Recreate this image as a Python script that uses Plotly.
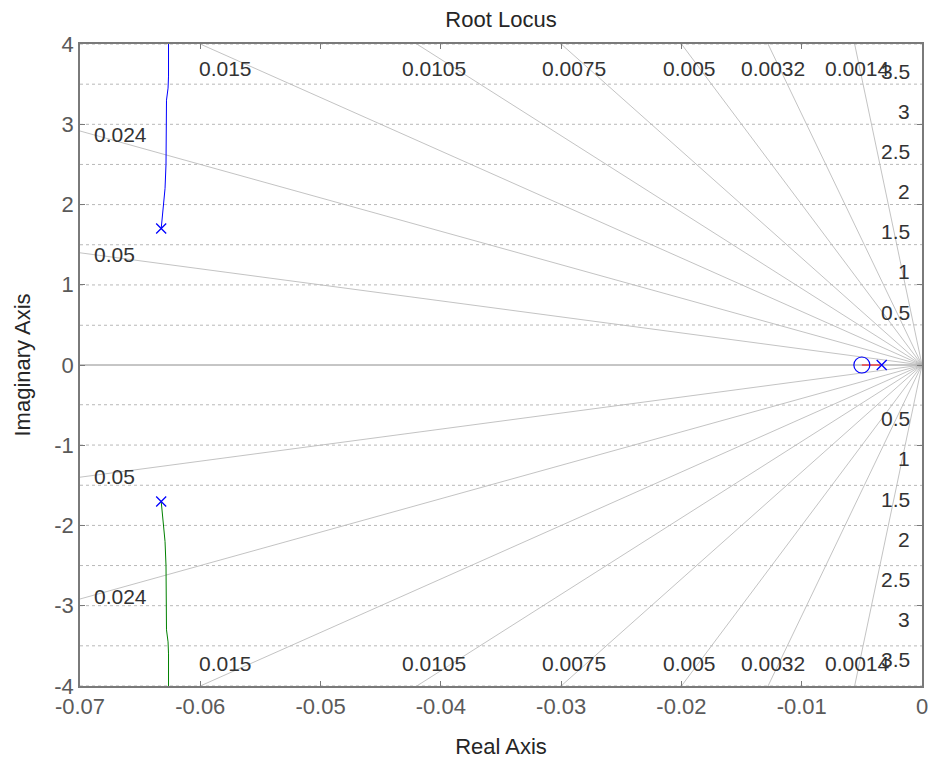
import numpy as np
import plotly.graph_objects as go

# ---- data ----
# damping ratios of the sgrid rays
zeta_vals = [0.0014, 0.0032, 0.005, 0.0075, 0.0105, 0.015, 0.024, 0.05]
zeta_labels = ["0.0014", "0.0032", "0.005", "0.0075", "0.0105", "0.015", "0.024", "0.05"]
# natural frequencies of the sgrid arcs
wn_vals = [0.5, 1.0, 1.5, 2.0, 2.5, 3.0, 3.5, 4.0]
wn_labels = ["0.5", "1", "1.5", "2", "2.5", "3", "3.5", ""]

# root locus branches
branch_up_x = [-0.06325, -0.06318, -0.06306, -0.06293, -0.06285, -0.06281, -0.06281, -0.06268, -0.06264, -0.06264]
branch_up_y = [1.70, 1.80, 2.00, 2.20, 2.50, 3.00, 3.30, 3.45, 3.60, 4.00]
branch_dn_x = [-0.06325, -0.06318, -0.06306, -0.06293, -0.06285, -0.06281, -0.06281, -0.06268, -0.06264, -0.06264]
branch_dn_y = [-1.70, -1.80, -2.00, -2.20, -2.50, -3.00, -3.30, -3.45, -3.60, -4.00]
branch_real_x = [-0.00335, -0.00500]
branch_real_y = [0.0, 0.0]

poles_x = [-0.06325, -0.06325, -0.00335]
poles_y = [1.70, -1.70, 0.0]
zeros_x = [-0.00500]
zeros_y = [0.0]

x_ticks = [-0.07, -0.06, -0.05, -0.04, -0.03, -0.02, -0.01, 0]
x_ticktext = ["-0.07", "-0.06", "-0.05", "-0.04", "-0.03", "-0.02", "-0.01", "0"]
y_ticks = [-4, -3, -2, -1, 0, 1, 2, 3, 4]
y_ticktext = ["-4", "-3", "-2", "-1", "0", "1", "2", "3", "4"]

XMIN, XMAX, YMIN, YMAX = -0.07, 0.0, -4.0, 4.0

fig = go.Figure()

grid_col = "#b4b4b4"

# real axis (zeta = 1 ray)
fig.add_trace(go.Scatter(x=[XMIN - 1, 0], y=[0, 0], mode="lines",
                         line=dict(color="#8c8c8c", width=1), hoverinfo="skip", showlegend=False))

# damping rays
R = 10.0
for z in zeta_vals:
    s = np.sqrt(1 - z * z)
    fig.add_trace(go.Scatter(x=[0, -R * z], y=[0, R * s], mode="lines",
                             line=dict(color=grid_col, width=0.8), hoverinfo="skip", showlegend=False))
    fig.add_trace(go.Scatter(x=[0, -R * z], y=[0, -R * s], mode="lines",
                             line=dict(color=grid_col, width=0.8), hoverinfo="skip", showlegend=False))

# natural frequency arcs
xs = np.linspace(XMIN, 0, 60)
for w in wn_vals:
    ys = np.sqrt(w * w - xs * xs)
    fig.add_trace(go.Scatter(x=xs, y=ys, mode="lines",
                             line=dict(color="#b8b8b8", width=1, dash="dot"), hoverinfo="skip", showlegend=False))
    fig.add_trace(go.Scatter(x=xs, y=-ys, mode="lines",
                             line=dict(color="#b8b8b8", width=1, dash="dot"), hoverinfo="skip", showlegend=False))

# root locus branches
fig.add_trace(go.Scatter(x=branch_up_x, y=branch_up_y, mode="lines",
                         line=dict(color="#0000ff", width=1), showlegend=False))
fig.add_trace(go.Scatter(x=branch_dn_x, y=branch_dn_y, mode="lines",
                         line=dict(color="#008000", width=1), showlegend=False))
fig.add_trace(go.Scatter(x=branch_real_x, y=branch_real_y, mode="lines",
                         line=dict(color="#ff0000", width=1), showlegend=False))

# poles and zeros
fig.add_trace(go.Scatter(x=poles_x, y=poles_y, mode="markers",
                         marker=dict(symbol="x-thin-open", size=10, color="#0000ff",
                                     line=dict(color="#0000ff", width=1.3)),
                         showlegend=False))
fig.add_trace(go.Scatter(x=zeros_x, y=zeros_y, mode="markers",
                         marker=dict(symbol="circle-open", size=16, color="#0000ff",
                                     line=dict(color="#0000ff", width=1.2)),
                         showlegend=False))

FONT = "Liberation Sans, Arial, sans-serif"
annotations = []
lab_font = dict(family=FONT, size=21, color="#333333")
# damping labels
for z, t in zip(zeta_vals, zeta_labels):
    s = np.sqrt(1 - z * z)
    y_edge = -XMIN * s / z
    if y_edge > 3.7:
        xt = -4.0 * z / s * 0.965
        for yy in (3.70, -3.72):
            annotations.append(dict(x=xt, y=yy, text=t, showarrow=False, xanchor="center",
                                    yanchor="middle", font=lab_font))
    else:
        for yy in (y_edge * 0.985, -y_edge * 0.99):
            annotations.append(dict(x=XMIN + 0.0010, y=yy, text=t, showarrow=False, xanchor="left",
                                    yanchor="middle", font=lab_font))
# natural frequency labels
for w, t in zip(wn_vals, wn_labels):
    if not t:
        continue
    for yy in (w + 0.16, -(w + 0.17)):
        annotations.append(dict(x=-0.0008, y=yy, text=t, showarrow=False, xanchor="right",
                                yanchor="middle", font=lab_font))

tick_font = dict(family=FONT, size=22, color="#5a5a5a")
title_font = dict(family=FONT, size=22, color="#262626")
fig.update_layout(
    width=933, height=760,
    margin=dict(l=80, r=11, t=44, b=74, autoexpand=False),
    paper_bgcolor="white", plot_bgcolor="white",
    title=dict(text="Root Locus", x=501 / 933, xanchor="center", y=1 - 19 / 760, yanchor="middle",
               font=title_font),
    annotations=annotations,
    xaxis=dict(range=[XMIN, XMAX], tickvals=x_ticks, ticktext=x_ticktext,
               showgrid=False, zeroline=False, showline=True, linecolor="#7a7a7a", linewidth=1.5,
               mirror="ticks", ticks="inside", ticklen=5, tickcolor="#7a7a7a",
               tickfont=tick_font, automargin=False,
               title=dict(text="Real Axis", standoff=20, font=title_font)),
    yaxis=dict(range=[YMIN, YMAX], tickvals=y_ticks, ticktext=y_ticktext,
               showgrid=False, zeroline=False, showline=True, linecolor="#7a7a7a", linewidth=1.5,
               mirror="ticks", ticks="inside", ticklen=5, tickcolor="#7a7a7a",
               tickfont=tick_font, automargin=False,
               title=dict(text="Imaginary Axis", standoff=18, font=title_font)),
)

fig.write_html("out.html", config={"displayModeBar": False},
               post_script="document.body.style.margin='0';document.body.style.padding='0';")
